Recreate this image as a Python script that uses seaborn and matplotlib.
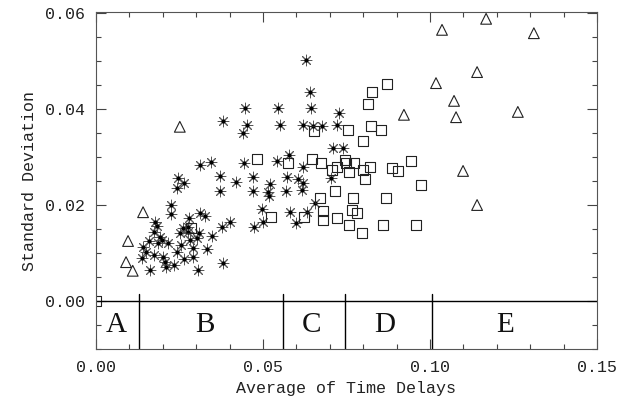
import numpy as np
import pandas as pd
import seaborn as sns
import matplotlib.pyplot as plt
from matplotlib.ticker import MultipleLocator

# asterisks (group B/C mostly)
star_x = [0.0629, 0.0641, 0.0446, 0.0545, 0.0644, 0.0728, 0.0380, 0.0452, 0.0440, 0.0551,
          0.0620, 0.0650, 0.0677, 0.0722, 0.0710, 0.0740, 0.0578, 0.0542, 0.0443, 0.0344,
          0.0311, 0.0620, 0.0371, 0.0572, 0.0605, 0.0620, 0.0704, 0.0470, 0.0419, 0.0521,
          0.0246, 0.0263, 0.0243, 0.0371, 0.0470, 0.0515, 0.0518, 0.0569, 0.0617, 0.0656,
          0.0225, 0.0225, 0.0497, 0.0581, 0.0632, 0.0311, 0.0326, 0.0278, 0.0177, 0.0500,
          0.0599, 0.0473, 0.0401, 0.0377, 0.0347, 0.0332, 0.0380, 0.0305, 0.0174, 0.0183,
          0.0192, 0.0186, 0.0216, 0.0141, 0.0150, 0.0174, 0.0138, 0.0162, 0.0201, 0.0207,
          0.0210, 0.0234, 0.0243, 0.0251, 0.0254, 0.0263, 0.0275, 0.0281, 0.0290, 0.0290,
          0.0275, 0.0302, 0.0308, 0.0260, 0.0198, 0.0159]
star_y = [0.0502, 0.0435, 0.0402, 0.0402, 0.0402, 0.0392, 0.0375, 0.0367, 0.0350, 0.0367,
          0.0367, 0.0365, 0.0365, 0.0367, 0.0319, 0.0319, 0.0304, 0.0292, 0.0288, 0.0290,
          0.0283, 0.0279, 0.0260, 0.0258, 0.0254, 0.0246, 0.0256, 0.0258, 0.0248, 0.0244,
          0.0256, 0.0246, 0.0235, 0.0229, 0.0229, 0.0227, 0.0219, 0.0229, 0.0231, 0.0204,
          0.0200, 0.0181, 0.0192, 0.0185, 0.0185, 0.0183, 0.0177, 0.0173, 0.0165, 0.0165,
          0.0163, 0.0154, 0.0165, 0.0154, 0.0135, 0.0108, 0.0079, 0.0065, 0.0144, 0.0156,
          0.0133, 0.0121, 0.0121, 0.0113, 0.0102, 0.0096, 0.0090, 0.0065, 0.0092, 0.0081,
          0.0071, 0.0075, 0.0102, 0.0142, 0.0117, 0.0087, 0.0154, 0.0127, 0.0110, 0.0092,
          0.0144, 0.0131, 0.0142, 0.0152, 0.0127, 0.0125]

# open squares (group C/D)
sq_x = [0.0871, 0.0826, 0.0814, 0.0823, 0.0853, 0.0754, 0.0653, 0.0799, 0.0482, 0.0575,
        0.0647, 0.0674, 0.0707, 0.0722, 0.0746, 0.0749, 0.0772, 0.0757, 0.0799, 0.0820,
        0.0805, 0.0886, 0.0904, 0.0943, 0.0973, 0.0716, 0.0671, 0.0769, 0.0868, 0.0680,
        0.0680, 0.0722, 0.0766, 0.0781, 0.0757, 0.0859, 0.0958, 0.0796, 0.0524, 0.0623,
        0.0284, 0.0]
sq_y = [0.0452, 0.0435, 0.0410, 0.0365, 0.0356, 0.0356, 0.0354, 0.0333, 0.0296, 0.0288,
        0.0296, 0.0288, 0.0273, 0.0279, 0.0294, 0.0288, 0.0288, 0.0269, 0.0273, 0.0279,
        0.0254, 0.0277, 0.0271, 0.0292, 0.0242, 0.0229, 0.0215, 0.0215, 0.0215, 0.0188,
        0.0169, 0.0173, 0.0190, 0.0183, 0.0158, 0.0158, 0.0158, 0.0142, 0.0175, 0.0175,
        0.0152, 0.0]

# open triangles (groups A and E)
tri_x = [0.0090, 0.0096, 0.0110, 0.0141, 0.0251, 0.1168, 0.1036, 0.1311, 0.1141, 0.1018,
         0.1072, 0.1078, 0.0922, 0.1263, 0.1099, 0.1141]
tri_y = [0.0081, 0.0125, 0.0063, 0.0185, 0.0363, 0.0588, 0.0565, 0.0558, 0.0477, 0.0454,
         0.0417, 0.0383, 0.0388, 0.0394, 0.0271, 0.0200]

# class boundaries and labels along the bottom strip
bounds = [0.0129, 0.056, 0.0746, 0.1005]
region_labels = ['A', 'B', 'C', 'D', 'E']
region_x = [0.006, 0.0326, 0.0644, 0.0865, 0.1225]


def main():
    sns.set_style('ticks')
    plt.rcParams['font.family'] = ['Liberation Mono', 'DejaVu Sans']

    fig = plt.figure(figsize=(6.22, 4.03), dpi=100)
    ax = fig.add_axes([0.1543, 0.134, 0.8055, 0.836])

    stars = pd.DataFrame({'x': star_x, 'y': star_y})
    squares = pd.DataFrame({'x': sq_x, 'y': sq_y})
    tris = pd.DataFrame({'x': tri_x, 'y': tri_y})

    # asterisk: grey arms with a dark core
    sns.scatterplot(data=stars, x='x', y='y', ax=ax, marker=(8, 2, 0), s=60,
                    color='#555555', edgecolor='#555555', linewidth=0.7)
    sns.scatterplot(data=stars, x='x', y='y', ax=ax, marker='o', s=9,
                    color='black', edgecolor='black', linewidth=0)
    sns.scatterplot(data=squares, x='x', y='y', ax=ax, marker='s', s=55,
                    facecolor='none', edgecolor='#222222', linewidth=0.8)
    sns.scatterplot(data=tris, x='x', y='y', ax=ax, marker='^', s=60,
                    facecolor='none', edgecolor='#222222', linewidth=0.8)

    # baseline and region dividers
    ax.axhline(0, color='black', lw=1.0)
    for b in bounds:
        ax.plot([b, b], [-0.01, 0.0015], color='black', lw=1.0)
    for lab, xx in zip(region_labels, region_x):
        ax.text(xx, -0.005, lab, ha='center', va='center', fontsize=21,
                family='Liberation Serif', color='#111111')

    ax.set_xlim(0, 0.15)
    ax.set_ylim(-0.01, 0.0602)
    ax.set_xticks([0.0, 0.05, 0.10, 0.15])
    ax.set_xticklabels(['0.00', '0.05', '0.10', '0.15'])
    ax.set_yticks([0.0, 0.02, 0.04, 0.06])
    ax.set_yticklabels(['0.00', '0.02', '0.04', '0.06'])
    ax.xaxis.set_minor_locator(MultipleLocator(0.01))
    ax.yaxis.set_minor_locator(MultipleLocator(0.005))
    ax.tick_params(which='both', direction='in', top=True, right=True,
                   labelsize=12, color='#444444', labelcolor='#222222', width=0.8)
    ax.tick_params(which='major', length=7, pad=8)
    ax.tick_params(which='minor', length=3.5)
    for sp in ax.spines.values():
        sp.set_color('#555555')
        sp.set_linewidth(0.8)

    ax.set_xlabel('Average of Time Delays', fontsize=12, labelpad=4, color='#222222')
    ax.set_ylabel('Standard Deviation', fontsize=12, labelpad=6, color='#222222')

    fig.savefig('out.png', dpi=100)


if __name__ == '__main__':
    main()
